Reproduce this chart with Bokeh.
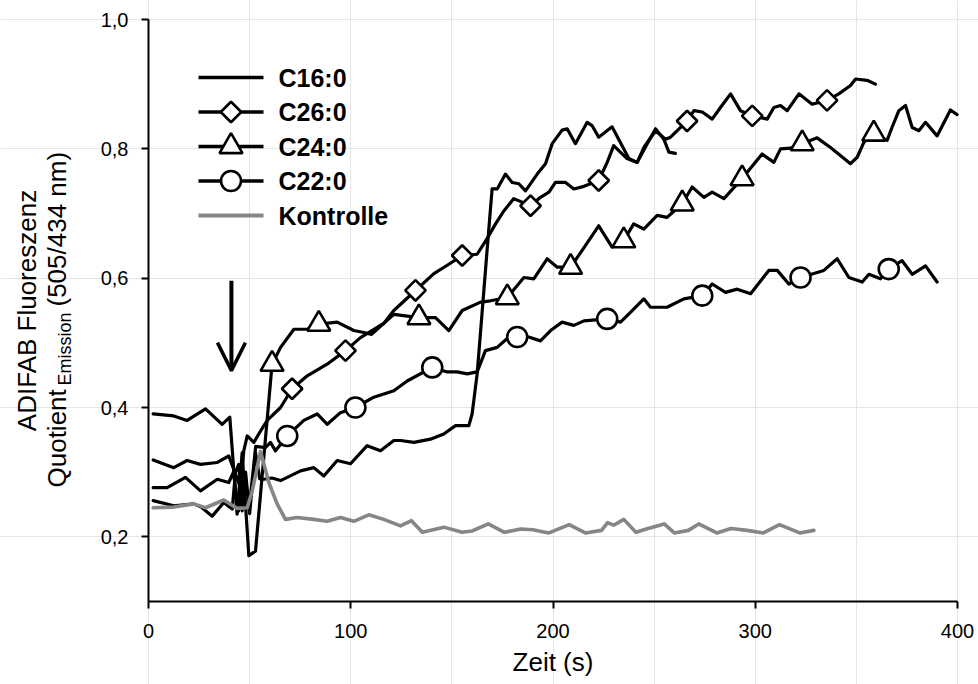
import numpy as np
from bokeh.plotting import figure
from bokeh.models import Range1d, Label, Arrow, OpenHead, FixedTicker, LinearAxis
from bokeh.embed import file_html
from bokeh.resources import INLINE

# ---------------- data ----------------
series_names = ["C16:0", "C26:0", "C24:0", "C22:0", "Kontrolle"]

c16_t = [2.3, 12.5, 22.4, 26.0, 31.5, 37.2, 41.4, 43.0, 44.6, 46.3, 48.0, 50.0, 52.9, 55.0,
         57.0, 61.0, 65.3, 75.2, 81.7, 86.7, 93.3, 99.9, 108.1, 114.7, 121.3, 124.6, 131.2,
         139.4, 146.0, 151.8, 158.4, 160.0, 162.5, 164.1, 167.4, 169.9, 172.4, 176.5, 179.8,
         183.1, 186.4, 192.2, 196.3, 199.6, 204.5, 207.0, 211.1, 216.9, 219.3, 222.6, 229.2,
         237.5, 241.6, 246.6, 250.7, 254.8, 257.3, 260.5]
c16_v = [0.256, 0.248, 0.251, 0.246, 0.232, 0.253, 0.243, 0.300, 0.312, 0.240, 0.300, 0.236,
         0.330, 0.290, 0.289, 0.291, 0.287, 0.302, 0.307, 0.294, 0.318, 0.313, 0.341, 0.333,
         0.349, 0.349, 0.346, 0.351, 0.359, 0.372, 0.372, 0.390, 0.452, 0.514, 0.643, 0.738,
         0.738, 0.761, 0.748, 0.746, 0.735, 0.761, 0.777, 0.808, 0.829, 0.831, 0.808, 0.841,
         0.836, 0.818, 0.834, 0.785, 0.779, 0.808, 0.831, 0.815, 0.795, 0.793]

c26_t = [2.3, 12.5, 19.1, 25.7, 34.0, 39.7, 45.5, 47.1, 48.8, 52.1, 54.5, 58.7, 65.3, 71.0,
         78.5, 88.3, 97.4, 104.8, 116.3, 121.3, 132.0, 141.1, 147.7, 155.1, 162.5, 167.4,
         171.6, 175.7, 180.6, 188.9, 193.8, 198.0, 201.2, 206.2, 210.3, 215.3, 222.6, 226.8,
         230.0, 236.6, 241.6, 244.9, 250.7, 255.6, 258.1, 266.3, 269.7, 273.8, 278.7, 282.8,
         287.8, 292.7, 298.5, 305.9, 309.2, 312.5, 315.8, 321.6, 328.1, 335.5, 341.3, 347.1,
         349.6, 355.3, 359.4]
c26_v = [0.319, 0.307, 0.318, 0.312, 0.315, 0.325, 0.276, 0.333, 0.356, 0.346, 0.359, 0.380,
         0.400, 0.429, 0.449, 0.467, 0.488, 0.508, 0.530, 0.550, 0.581, 0.607, 0.620, 0.635,
         0.637, 0.661, 0.684, 0.704, 0.723, 0.712, 0.725, 0.733, 0.748, 0.748, 0.738, 0.742,
         0.751, 0.779, 0.805, 0.785, 0.779, 0.802, 0.828, 0.815, 0.818, 0.843, 0.859, 0.857,
         0.846, 0.864, 0.885, 0.859, 0.851, 0.846, 0.864, 0.867, 0.859, 0.885, 0.869, 0.875,
         0.885, 0.898, 0.908, 0.906, 0.900]
c26_marker_t = [71.0, 97.4, 132.0, 155.1, 188.9, 222.6, 266.3, 298.5, 335.5]

c24_t = [2.3, 12.5, 19.1, 28.2, 36.4, 40.2, 43.8, 46.3, 49.6, 52.9, 61.1, 65.3, 71.9, 78.5,
         84.2, 93.3, 101.5, 106.5, 110.3, 121.3, 133.7, 141.9, 148.5, 155.1, 164.2, 169.1,
         177.4, 185.6, 190.5, 197.1, 202.1, 208.7, 214.4, 222.6, 229.2, 235.0, 239.9, 244.9,
         251.5, 256.4, 263.9, 268.8, 274.6, 278.7, 284.5, 293.5, 303.4, 309.2, 312.5, 317.4,
         323.2, 330.6, 337.2, 347.1, 350.4, 353.7, 358.6, 365.2, 367.6, 371.0, 374.3, 377.6,
         380.9, 384.2, 389.9, 396.5, 399.8]
c24_v = [0.390, 0.387, 0.380, 0.398, 0.374, 0.385, 0.235, 0.330, 0.171, 0.178, 0.467, 0.493,
         0.521, 0.521, 0.529, 0.532, 0.519, 0.516, 0.513, 0.544, 0.539, 0.539, 0.519, 0.550,
         0.563, 0.565, 0.570, 0.601, 0.599, 0.630, 0.617, 0.617, 0.643, 0.681, 0.648, 0.658,
         0.684, 0.676, 0.697, 0.694, 0.715, 0.741, 0.725, 0.733, 0.723, 0.754, 0.792, 0.779,
         0.800, 0.801, 0.808, 0.817, 0.802, 0.777, 0.787, 0.810, 0.823, 0.813, 0.833, 0.859,
         0.867, 0.833, 0.828, 0.841, 0.820, 0.860, 0.853]
c24_marker_t = [61.1, 84.2, 133.7, 177.4, 208.7, 235.0, 263.9, 293.5, 323.2, 358.6]

c22_t = [2.3, 9.2, 18.3, 25.7, 34.0, 39.7, 42.0, 44.5, 47.0, 50.0, 53.0, 57.8, 60.3, 62.8,
         68.6, 76.8, 83.4, 88.4, 94.9, 102.3, 111.4, 121.3, 127.9, 140.3, 147.7, 152.6, 157.6,
         162.5, 166.6, 172.4, 178.2, 182.3, 188.0, 193.8, 198.8, 204.5, 210.3, 215.3, 226.8,
         233.4, 238.3, 244.9, 248.2, 256.4, 264.7, 273.8, 278.7, 285.3, 291.1, 297.7, 306.7,
         310.9, 316.6, 322.4, 333.9, 340.5, 346.3, 352.9, 356.2, 361.9, 366.0, 372.6, 377.6,
         384.2, 389.9]
c22_v = [0.276, 0.276, 0.292, 0.271, 0.289, 0.284, 0.300, 0.240, 0.300, 0.250, 0.340, 0.338,
         0.346, 0.333, 0.356, 0.380, 0.390, 0.374, 0.392, 0.400, 0.416, 0.426, 0.441, 0.462,
         0.455, 0.455, 0.452, 0.455, 0.488, 0.493, 0.509, 0.509, 0.509, 0.503, 0.519, 0.532,
         0.527, 0.534, 0.537, 0.532, 0.547, 0.568, 0.555, 0.555, 0.568, 0.573, 0.591, 0.578,
         0.583, 0.576, 0.612, 0.612, 0.591, 0.601, 0.612, 0.630, 0.601, 0.594, 0.606, 0.599,
         0.614, 0.627, 0.606, 0.619, 0.594]
c22_marker_t = [68.6, 102.3, 140.3, 182.3, 226.8, 273.8, 322.4, 366.0]

ktrl_t = [2.3, 12.5, 22.4, 28.2, 37.2, 43.8, 48.8, 51.3, 55.4, 59.5, 63.6, 67.7, 73.5, 81.7,
          88.3, 94.9, 101.5, 108.9, 116.3, 124.6, 130.0, 135.4, 146.0, 155.0, 160.0, 168.0,
          176.0, 184.0, 190.0, 198.0, 208.0, 216.0, 224.0, 227.0, 230.0, 235.0, 241.0, 247.0,
          255.0, 260.0, 267.0, 272.0, 281.0, 288.0, 296.0, 304.0, 312.0, 322.0, 329.0]
ktrl_v = [0.245, 0.246, 0.251, 0.245, 0.257, 0.244, 0.245, 0.271, 0.332, 0.284, 0.251, 0.227,
          0.230, 0.227, 0.224, 0.230, 0.224, 0.234, 0.227, 0.217, 0.225, 0.207, 0.215, 0.207,
          0.209, 0.220, 0.207, 0.212, 0.211, 0.206, 0.219, 0.206, 0.210, 0.222, 0.218, 0.227,
          0.207, 0.213, 0.220, 0.206, 0.210, 0.220, 0.206, 0.213, 0.210, 0.206, 0.219, 0.206,
          0.210]

# injection arrow (time, start value, tip value)
arrow_time = 41.0
arrow_top = 0.596
arrow_tip = 0.457

x_limits = (0, 400)
y_limits = (0.1, 1.0)
x_ticks = [0, 100, 200, 300, 400]
x_tick_labels = ["0", "100", "200", "300", "400"]
y_ticks = [0.2, 0.4, 0.6, 0.8, 1.0]
y_tick_labels = ["0,2", "0,4", "0,6", "0,8", "1,0"]

x_title = "Zeit (s)"
y_title_1 = "ADIFAB Fluoreszenz"
y_title_2a = "Quotient"
y_title_2b = "Emission"
y_title_2c = "(505/434 nm)"

# ---------------- layout / style ----------------
W, H = 978, 684
# pixel box of the axes area inside the page
AX_LEFT, AX_RIGHT, AX_TOP, AX_BOTTOM = 148, 957, 19, 601
FONT = "Liberation Sans"
BLACK = "#000000"
GRAY = "#868686"

sx = (AX_RIGHT - AX_LEFT) / (x_limits[1] - x_limits[0])
sy = (AX_BOTTOM - AX_TOP) / (y_limits[1] - y_limits[0])
x_range = Range1d(x_limits[0] - AX_LEFT / sx, x_limits[1] + (W - AX_RIGHT) / sx)
y_range = Range1d(y_limits[0] - (H - AX_BOTTOM) / sy, y_limits[1] + AX_TOP / sy)

p = figure(width=W, height=H, x_range=x_range, y_range=y_range,
           x_axis_location=None, y_axis_location=None, min_border=0,
           output_backend="svg", toolbar_location=None)
p.outline_line_color = None
p.background_fill_color = "white"
p.border_fill_color = "white"

xaxis = LinearAxis(fixed_location=y_limits[0], bounds=x_limits,
                   ticker=FixedTicker(ticks=x_ticks),
                   major_label_overrides=dict(zip(x_ticks, x_tick_labels)))
yaxis = LinearAxis(fixed_location=x_limits[0], bounds=y_limits,
                   ticker=FixedTicker(ticks=y_ticks),
                   major_label_overrides=dict(zip(y_ticks, y_tick_labels)))
for ax in (xaxis, yaxis):
    ax.axis_line_width = 2
    ax.axis_line_color = BLACK
    ax.major_tick_line_width = 2
    ax.major_tick_line_color = BLACK
    ax.major_tick_out = 7
    ax.major_tick_in = 0
    ax.minor_tick_line_color = None
    ax.major_label_text_font = FONT
    ax.major_label_text_font_size = "20px"
    ax.major_label_text_color = BLACK
xaxis.major_label_standoff = 15
yaxis.major_label_standoff = 13
p.add_layout(xaxis, "below")
p.add_layout(yaxis, "left")

# ---------------- series ----------------
line_kw = dict(line_width=3.2, line_join="round", line_cap="round")
p.line(c16_t, c16_v, line_color=BLACK, **line_kw)
p.line(c26_t, c26_v, line_color=BLACK, **line_kw)
p.line(c24_t, c24_v, line_color=BLACK, **line_kw)
p.line(c22_t, c22_v, line_color=BLACK, **line_kw)
p.line(ktrl_t, ktrl_v, line_color=GRAY, line_width=3.6, line_join="round", line_cap="round")


def marker_points(ts, vs, mts):
    lookup = dict(zip(ts, vs))
    return list(mts), [lookup[t] for t in mts]


mk_kw = dict(fill_color="white", line_color=BLACK, line_width=2.6)
DIAMOND_SIZE, TRI_SIZE, CIRC_SIZE = 14.5, 23, 20

mx, my = marker_points(c26_t, c26_v, c26_marker_t)
p.scatter(mx, my, marker="square", angle=np.pi / 4, size=DIAMOND_SIZE, **mk_kw)
mx, my = marker_points(c24_t, c24_v, c24_marker_t)
p.scatter(mx, my, marker="triangle", size=TRI_SIZE, **mk_kw)
mx, my = marker_points(c22_t, c22_v, c22_marker_t)
p.scatter(mx, my, marker="circle", size=CIRC_SIZE, **mk_kw)

# ---------------- injection arrow ----------------
p.add_layout(Arrow(end=OpenHead(size=28, line_width=3.5, line_color=BLACK),
                   x_start=arrow_time, y_start=arrow_top, x_end=arrow_time, y_end=arrow_tip,
                   line_width=4, line_color=BLACK))

# ---------------- legend (drawn in page pixel space, y measured from the bottom) ----------------
p.extra_x_ranges = {"px": Range1d(0, W)}
p.extra_y_ranges = {"px": Range1d(0, H)}
LEG_X0, LEG_X1 = 198, 263
LEG_MX = (LEG_X0 + LEG_X1) / 2
LEG_TX = 278
LEG_TOP_ROW, LEG_PITCH = 77, 34.5           # canvas y of the first row centre
rows_y = [H - (LEG_TOP_ROW + i * LEG_PITCH) for i in range(len(series_names))]
row_colors = [BLACK, BLACK, BLACK, BLACK, GRAY]
row_widths = [3.5, 3.5, 3.5, 3.5, 4.0]
p.segment(x0=[LEG_X0] * 5, x1=[LEG_X1] * 5, y0=rows_y, y1=rows_y,
          line_color=row_colors, line_width=row_widths,
          x_range_name="px", y_range_name="px")
p.scatter([LEG_MX], [rows_y[1]], marker="square", angle=np.pi / 4, size=DIAMOND_SIZE,
          x_range_name="px", y_range_name="px", **mk_kw)
p.scatter([LEG_MX], [rows_y[2]], marker="triangle", size=TRI_SIZE,
          x_range_name="px", y_range_name="px", **mk_kw)
p.scatter([LEG_MX], [rows_y[3]], marker="circle", size=CIRC_SIZE,
          x_range_name="px", y_range_name="px", **mk_kw)
for name, ry in zip(series_names, rows_y):
    p.add_layout(Label(x=LEG_TX, y=ry, x_units="screen", y_units="screen", text=name,
                       text_font=FONT, text_font_size="25px", text_font_style="bold",
                       text_color=BLACK, text_align="left", text_baseline="middle"))

# ---------------- axis titles ----------------
p.add_layout(Label(x=(x_limits[0] + x_limits[1]) / 2, y=H - 661, x_units="data",
                   y_units="screen", text=x_title, text_font=FONT, text_font_size="26px",
                   text_color=BLACK, text_align="center", text_baseline="middle"))

ang = np.pi / 2
p.add_layout(Label(x=26, y=H - 310, x_units="screen", y_units="screen", angle=ang,
                   text=y_title_1, text_font=FONT, text_font_size="26px",
                   text_color=BLACK, text_align="center", text_baseline="middle"))
p.add_layout(Label(x=56, y=H - 487, x_units="screen", y_units="screen", angle=ang,
                   text=y_title_2a, text_font=FONT, text_font_size="26px",
                   text_color=BLACK, text_align="left", text_baseline="middle"))
p.add_layout(Label(x=64, y=H - 385, x_units="screen", y_units="screen", angle=ang,
                   text=y_title_2b, text_font=FONT, text_font_size="18px",
                   text_color=BLACK, text_align="left", text_baseline="middle"))
p.add_layout(Label(x=56, y=H - 306, x_units="screen", y_units="screen", angle=ang,
                   text=y_title_2c, text_font=FONT, text_font_size="26px",
                   text_color=BLACK, text_align="left", text_baseline="middle"))

open("out.html", "w").write(file_html(p, INLINE))
